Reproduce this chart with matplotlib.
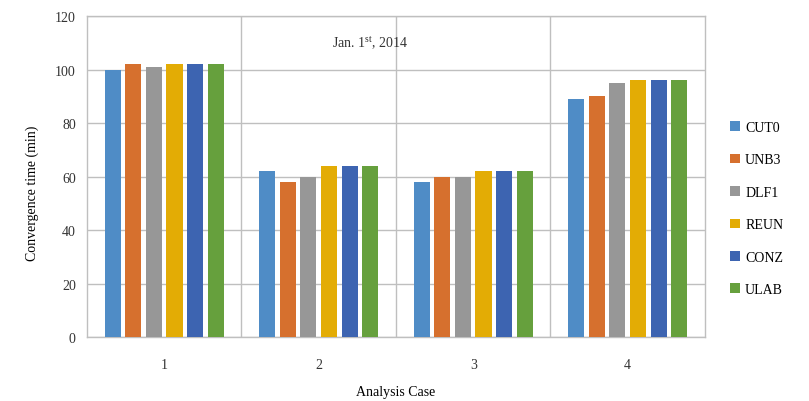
import matplotlib
matplotlib.use("Agg")
import matplotlib.pyplot as plt
import numpy as np

plt.rcParams['font.family'] = ['Liberation Serif', 'DejaVu Serif']
plt.rcParams['mathtext.fontset'] = 'custom'
plt.rcParams['mathtext.rm'] = 'Liberation Serif'

cases = ["1", "2", "3", "4"]
series_names = ["CUT0", "UNB3", "DLF1", "REUN", "CONZ", "ULAB"]
cut0 = [100, 62, 58, 89]
unb3 = [102, 58, 60, 90]
dlf1 = [101, 60, 60, 95]
reun = [102, 64, 62, 96]
conz = [102, 64, 62, 96]
ulab = [102, 64, 62, 96]
values = [cut0, unb3, dlf1, reun, conz, ulab]
colors = ["#4f8cc6", "#d6702e", "#979797", "#e3ac05", "#3d64b1", "#66a03d"]

fig = plt.figure(figsize=(8.09, 4.02), dpi=100)
ax = fig.add_axes([0.1075, 0.1592, 0.7639, 0.7985])

x = np.arange(len(cases))
pitch = 0.133
width = 0.104
for i, (name, vals, c) in enumerate(zip(series_names, values, colors)):
    ax.bar(x + (i - 2.5) * pitch, vals, width=width, color=c, label=name, zorder=3)

ax.set_xlim(-0.5, 3.5)
ax.set_ylim(0, 120)
ax.set_yticks(np.arange(0, 121, 20))
ax.set_xticks(x)
ax.set_xticklabels(cases)
ax.set_xticks(np.arange(0.5, 3.5, 1), minor=True)
ax.tick_params(axis='both', which='both', length=0, labelsize=10, colors='#333333')
ax.tick_params(axis='x', pad=15)
ax.tick_params(axis='y', pad=8)
ax.grid(True, axis='y', which='major', color='#bfbfbf', linewidth=1, zorder=0)
ax.grid(True, axis='x', which='minor', color='#bfbfbf', linewidth=1, zorder=0)
for s in ax.spines.values():
    s.set_color('#bfbfbf')
    s.set_linewidth(1)

ax.set_ylabel("Convergence time (min)", fontsize=10)
ax.yaxis.set_label_coords(-0.077, 0.45)
ax.set_xlabel("Analysis Case", fontsize=10)
ax.xaxis.set_label_coords(0.5, -0.148)

ax.text(0.458, 0.919, r"Jan. 1$^{\mathrm{st}}$, 2014", transform=ax.transAxes,
        ha='center', va='center', fontsize=10, color='#333333')

leg = ax.legend(loc='center left', bbox_to_anchor=(1.02, 0.40), frameon=False,
                fontsize=10, handlelength=0.7, handleheight=0.7,
                labelspacing=1.4, handletextpad=0.4)

fig.savefig("out.png", dpi=100)
